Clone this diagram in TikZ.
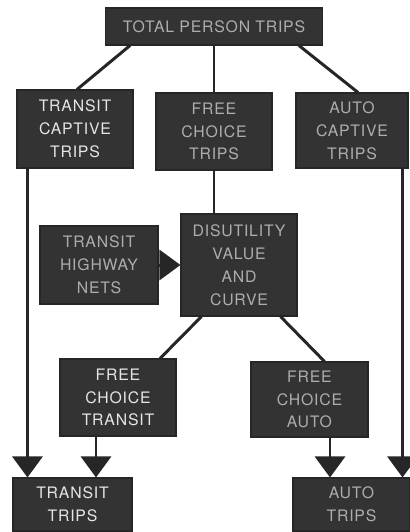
\documentclass[tikz,border=0pt]{standalone}
\usepackage{fontspec}
\setmainfont{TeX Gyre Heros}[LetterSpace=5]
\usetikzlibrary{calc,arrows.meta}

\begin{document}
\begin{tikzpicture}[x=0.02cm, y=-0.02cm,
        box/.style={fill=black!80, draw=black!85, line width=0.6pt, align=center, inner sep=0pt,
            text=black!10, font=\fontsize{9}{13}\selectfont},
        dimtext/.style={text=black!32},
        link/.style={line width=1.7pt, black!85},
        arr/.style={link, -{Triangle[length=0.42cm, width=0.6cm]}}]
        \useasboundingbox (0, 0) rectangle (410, 532);

        % first row
        \node[box, dimtext, minimum width=4.34cm, minimum height=0.74cm] (total) at (214, 26.5) {TOTAL PERSON TRIPS};
        \node[box, minimum width=2.32cm, minimum height=1.56cm] (tcapt) at (75, 129) {TRANSIT\\CAPTIVE\\TRIPS};
        \node[box, dimtext, minimum width=2.32cm, minimum height=1.54cm] (fchoice) at (214, 131.5) {FREE\\CHOICE\\TRIPS};
        \node[box, dimtext, minimum width=2.24cm, minimum height=1.5cm] (acapt) at (352, 130.5) {AUTO\\CAPTIVE\\TRIPS};

        % middle
        \node[box, dimtext, minimum width=2.36cm, minimum height=1.56cm] (nets) at (99, 265) {TRANSIT\\HIGHWAY\\NETS};
        \node[box, dimtext, minimum width=2.32cm, minimum height=2.04cm] (disut) at (239, 265) {DISUTILITY\\VALUE\\AND\\CURVE};

        \node[box, minimum width=2.32cm, minimum height=1.54cm] (fctransit) at (118, 397.5) {FREE\\CHOICE\\TRANSIT};
        \node[box, dimtext, minimum width=2.34cm, minimum height=1.5cm] (fcauto) at (309.5, 399.5) {FREE\\CHOICE\\AUTO};

        % results
        \node[box, minimum width=2.38cm, minimum height=1.06cm] (ttrips) at (72.5, 504.5) {TRANSIT\\TRIPS};
        \node[box, dimtext, minimum width=2.34cm, minimum height=1.06cm] (atrips) at (351.5, 504.5) {AUTO\\TRIPS};

        \draw[link] ($(total.south west)+(25, 0)$) -- ($(tcapt.north)+(2, 0)$);
        \draw[link] (total.south) -- (fchoice.north);
        \draw[link] ($(total.south east)+(-24, 0)$) -- ($(acapt.north)+(6, 0)$);

        \draw[link] (fchoice.south) -- (fchoice.south |- disut.north);
        \draw[arr] (nets.east) -- (disut.west);

        \draw[link] ($(disut.south west)+(21, 0)$) -- ($(fctransit.north)+(42, 0)$);
        \draw[link] ($(disut.south east)+(-17, 0)$) -- ($(fcauto.north)+(15, 0)$);

        \coordinate (l1) at ($(tcapt.south west)+(11, 0)$);
        \coordinate (l2) at ($(fctransit.south)+(-22, 0)$);
        \coordinate (r1) at ($(fcauto.south)+(20.5, 0)$);
        \coordinate (r2) at ($(acapt.south east)+(-6, 0)$);
        \draw[arr] (l1) -- (l1 |- ttrips.north);
        \draw[arr] (l2) -- (l2 |- ttrips.north);
        \draw[arr] (r1) -- (r1 |- atrips.north);
        \draw[arr] (r2) -- (r2 |- atrips.north);
    \end{tikzpicture}
\end{document}
